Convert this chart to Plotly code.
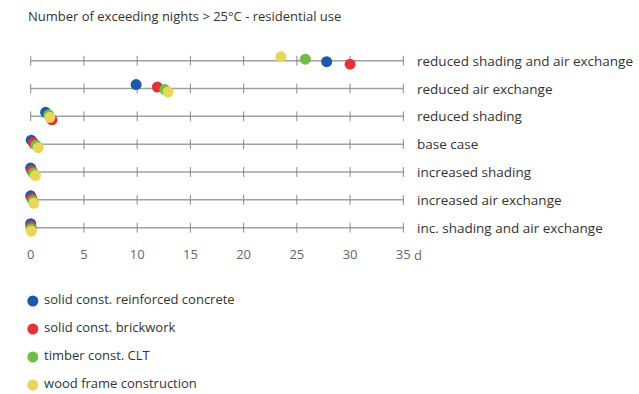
import numpy as np
import plotly.graph_objects as go

title = "Number of exceeding nights > 25°C - residential use"
scenarios = [
    "reduced shading and air exchange",
    "reduced air exchange",
    "reduced shading",
    "base case",
    "increased shading",
    "increased air exchange",
    "inc. shading and air exchange",
]
series_names = [
    "solid const. reinforced concrete",
    "solid const. brickwork",
    "timber const. CLT",
    "wood frame construction",
]
concrete = [27.8, 9.9, 1.4, 0.05, 0.0, 0.0, 0.0]
brickwork = [30.0, 11.9, 2.0, 0.25, 0.1, 0.1, 0.02]
clt = [25.8, 12.6, 1.7, 0.5, 0.25, 0.2, 0.04]
woodframe = [23.5, 12.9, 1.8, 0.7, 0.45, 0.3, 0.06]
tick_values = [0, 5, 10, 15, 20, 25, 30, 35]
tick_labels = ["0", "5", "10", "15", "20", "25", "30", "35"]
unit_label = "d"

colors = ["#1a5aa8", "#e5323a", "#6dbd47", "#e8d65a"]
all_series = [concrete, brickwork, clt, woodframe]

# vertical jitter in row units, ordered by rank of the value within a row
row_px = 27.83
jitter = np.array([-4.0, -1.5, 1.0, 3.5]) / row_px
vals = np.array(all_series)  # shape (4, 7)
ranks = np.argsort(np.argsort(vals, axis=0, kind="stable"), axis=0, kind="stable")
offsets = jitter[ranks]

fig = go.Figure()
line_color = "#a0a0a0"
nrows = len(scenarios)

# row lines
for i in range(nrows):
    fig.add_trace(go.Scatter(
        x=[tick_values[0], tick_values[-1]], y=[i, i], mode="lines",
        line=dict(color=line_color, width=1.5), hoverinfo="skip", showlegend=False,
        xaxis="x", yaxis="y"))
# row ticks
tx = [t for i in range(nrows) for t in tick_values]
ty = [i for i in range(nrows) for t in tick_values]
fig.add_trace(go.Scatter(
    x=tx, y=ty, mode="markers",
    marker=dict(symbol="line-ns", size=7, line=dict(color="#8a8a8a", width=1)),
    hoverinfo="skip", showlegend=False, xaxis="x", yaxis="y"))

# data points
for k, (name, s) in enumerate(zip(series_names, all_series)):
    fig.add_trace(go.Scatter(
        x=s, y=np.arange(nrows) + offsets[k], mode="markers", name=name,
        marker=dict(size=11, color=colors[k], line=dict(width=0)),
        showlegend=False, xaxis="x", yaxis="y", cliponaxis=False))

# legend drawn as a small scatter on a second y axis
fig.add_trace(go.Scatter(
    x=[0.2] * len(series_names), y=list(range(len(series_names))),
    mode="markers+text", text=[" " + n for n in series_names], textposition="middle right",
    textfont=dict(family="Open Sans, sans-serif", size=13, color="#333333"),
    marker=dict(size=11, color=colors), showlegend=False, hoverinfo="skip",
    xaxis="x", yaxis="y2", cliponaxis=False))

# row labels
for i, sc in enumerate(scenarios):
    fig.add_annotation(x=1, xref="paper", xanchor="left", xshift=1, y=i, yref="y",
                       text=sc, showarrow=False,
                       font=dict(family="Open Sans, sans-serif", size=13.5, color="#333333"))

fig.add_annotation(x=tick_values[-1], xref="x", xanchor="left", xshift=9, y=0, yref="y domain",
                   yanchor="middle", yshift=-10, text=unit_label, showarrow=False,
                   font=dict(family="Open Sans, sans-serif", size=13, color="#666666"))

W, H = 639, 394
t, b = 40, 5
plot_h = H - t - b
main_bottom_px = 245
y_dom_bottom = (H - b - main_bottom_px) / plot_h
leg_top_px = 290
y2_top = (H - b - leg_top_px) / plot_h

x0_px, x35_px = 30.7, 403.3
ppu = (x35_px - x0_px) / 35
l = 10
right_px = 414
xr = [-(x0_px - l) / ppu, (right_px - x0_px) / ppu]

yr = [(main_bottom_px - 60.7) / row_px, -(60.7 - t) / row_px]
y2r = [(H - b - 301) / 28.0, -(301 - leg_top_px) / 28.0]

fig.update_layout(
    width=W, height=H,
    margin=dict(l=l, r=W - right_px, t=t, b=b),
    paper_bgcolor="white", plot_bgcolor="white",
    title=dict(text=title, x=28 / W, xanchor="left", y=1 - 16 / H, yanchor="middle",
               font=dict(family="Open Sans, sans-serif", size=13, color="#333333")),
    xaxis=dict(range=xr, showgrid=False, zeroline=False, showline=False,
               tickvals=tick_values, ticktext=tick_labels, ticks="",
               tickfont=dict(family="Open Sans, sans-serif", size=13, color="#666666"),
               anchor="y", fixedrange=True),
    yaxis=dict(range=yr, domain=[y_dom_bottom, 1], visible=False, fixedrange=True),
    yaxis2=dict(range=y2r, domain=[0, y2_top], visible=False, fixedrange=True),
    showlegend=False,
)
fig.write_html("out.html", config={"displayModeBar": False},
               post_script="document.body.style.margin='0';document.body.style.padding='0';")
